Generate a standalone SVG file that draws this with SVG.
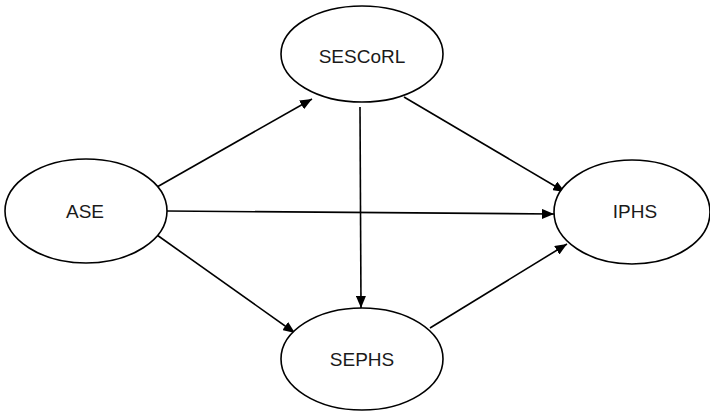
<svg xmlns="http://www.w3.org/2000/svg" width="710" height="414" viewBox="0 0 710 414">
<defs>
<style>
.node ellipse{fill:#fff;stroke:#000;stroke-width:1.6}
.node text{font-family:"Liberation Sans",Arial,sans-serif;font-size:19px;fill:#1a1a1a;text-anchor:middle}
.edges line{stroke:#000;stroke-width:1.6;marker-end:url(#ah)}
</style>
<marker id="ah" viewBox="0 0 12 10" refX="12" refY="5" markerWidth="12" markerHeight="10" markerUnits="userSpaceOnUse" orient="auto">
<path d="M0,0 L12,5 L0,10 Z" fill="#000"/>
</marker>
</defs>
<rect width="710" height="414" fill="#fff"/>
<g class="edges">
<line x1="157" y1="187" x2="312" y2="99"/>
<line x1="167" y1="211" x2="554" y2="214"/>
<line x1="157" y1="235" x2="295" y2="333"/>
<line x1="360" y1="107" x2="361" y2="308"/>
<line x1="404" y1="97" x2="565" y2="192"/>
<line x1="430" y1="328" x2="567" y2="244"/>
</g>
<g id="ASE" class="node"><ellipse cx="86" cy="211" rx="81" ry="52"/><text x="85" y="218">ASE</text></g>
<g id="SESCoRL" class="node"><ellipse cx="362" cy="54" rx="81" ry="48"/><text x="362" y="63">SESCoRL</text></g>
<g id="SEPHS" class="node"><ellipse cx="362" cy="359" rx="81" ry="51"/><text x="362" y="366">SEPHS</text></g>
<g id="IPHS" class="node"><ellipse cx="632" cy="212" rx="78" ry="52"/><text x="635" y="218">IPHS</text></g>
</svg>
